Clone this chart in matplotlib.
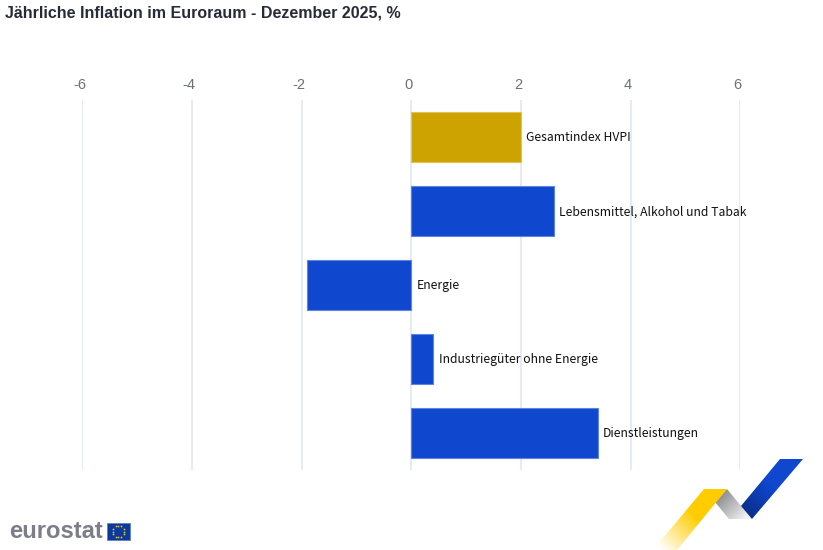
import numpy as np
import matplotlib
matplotlib.use("Agg")
import matplotlib.pyplot as plt
from matplotlib.colors import LinearSegmentedColormap
from matplotlib.patches import Polygon, Rectangle
from matplotlib.transforms import ScaledTranslation

categories = ["Gesamtindex HVPI", "Lebensmittel, Alkohol und Tabak", "Energie",
              "Industriegüter ohne Energie", "Dienstleistungen"]
values = [2.0, 2.6, -1.9, 0.4, 3.4]
bar_colors = ["#cca300", "#0f47cf", "#0f47cf", "#0f47cf", "#0f47cf"]
edge_colors = ["#e3c54d", "#5f84e0", "#5f84e0", "#5f84e0", "#5f84e0"]
x_ticks = [-6, -4, -2, 0, 2, 4, 6]
title = "Jährliche Inflation im Euroraum - Dezember 2025, %"

W, H = 823, 550
fig = plt.figure(figsize=(W / 100, H / 100), dpi=100, facecolor="white")

# main chart, axes box sits exactly on the outer gridlines
ax = fig.add_axes([82.3 / W, 1 - 470 / H, (740.3 - 82.3) / W, 370 / H])
y = np.arange(len(categories))
ax.barh(y, values, height=0.685, color=bar_colors, edgecolor=edge_colors, linewidth=0.8, zorder=3)
ax.set_xlim(-6, 6)
ax.set_ylim(len(categories) - 0.5, -0.5)
ax.set_xticks(x_ticks)
ax.set_xticklabels([str(t) for t in x_ticks])
ax.set_yticks([])
ax.xaxis.tick_top()
ax.grid(axis="x", color="#dfe4f0", linewidth=1.1, zorder=0)
ax.set_axisbelow(True)
ax.tick_params(axis="x", length=0, pad=6, labelsize=10.5, labelcolor="#6e7079")
# the tick labels sit a little left of their gridlines in the reference
shift = ScaledTranslation(-2.0 / 72, 0, fig.dpi_scale_trans)
for label in ax.get_xticklabels():
    label.set_family("Liberation Sans")
    label.set_transform(label.get_transform() + shift)
for s in ax.spines.values():
    s.set_visible(False)

for i, (v, name) in enumerate(zip(values, categories)):
    ax.annotate(name, (max(v, 0), i), xytext=(3.8, -0.7), textcoords="offset points",
                va="center", ha="left", fontsize=8.78, color="#111111",
                family="Noto Sans CJK SC", zorder=4)

fig.text(5 / W, 1 - 12.5 / H, title, fontsize=11.53, fontweight="bold", color="#262b38",
         family="Liberation Sans", va="center", ha="left")

# overlay in pixel coords for the logos
over = fig.add_axes([0, 0, 1, 1], facecolor="none")
over.set_xlim(0, W)
over.set_ylim(H, 0)
over.axis("off")


def ribbon(points, start, end, c0, c1):
    # gradient along start->end, clipped to the polygon
    xs, ys = np.meshgrid(np.arange(W) + 0.5, np.arange(H) + 0.5)
    dx, dy = end[0] - start[0], end[1] - start[1]
    t = ((xs - start[0]) * dx + (ys - start[1]) * dy) / (dx * dx + dy * dy)
    cmap = LinearSegmentedColormap.from_list("r", [c0, c1])
    im = over.imshow(np.clip(t, 0, 1), extent=(0, W, H, 0), cmap=cmap, vmin=0, vmax=1,
                     aspect="auto", interpolation="bilinear", zorder=2)
    poly = Polygon(points, closed=True, transform=over.transData, fc="none", ec="none")
    over.add_patch(poly)
    im.set_clip_path(poly)


ribbon([(715, 502), (727, 489), (752, 519), (729, 519)], (722, 497), (745, 519), "#949599", "#f2f2f3")
ribbon([(704, 489), (727, 489), (677, 550), (653, 550)], (695, 515), (662, 550), "#ffcc00", "#ffffff")
ribbon([(780, 459), (803, 459), (752, 519), (741, 506)], (772, 485), (748, 515), "#0f47cf", "#0a2f8c")
over.set_xlim(0, W)
over.set_ylim(H, 0)

# eurostat wordmark and flag
over.text(9.5, 532, "eurostat", fontsize=17.1, fontweight="bold", color="#7b7e88",
          family="Liberation Sans", va="center", ha="left")
over.add_patch(Rectangle((107, 523), 23, 17, fc="#0b3a9c", ec="#5f7fc4", lw=0.6))
ang = np.arange(12) * np.pi / 6
over.scatter(118.5 + 5.8 * np.cos(ang), 531.5 + 5.8 * np.sin(ang), s=1.6, c="#e8c530", linewidths=0, zorder=3)

fig.savefig("out.png", dpi=100)
